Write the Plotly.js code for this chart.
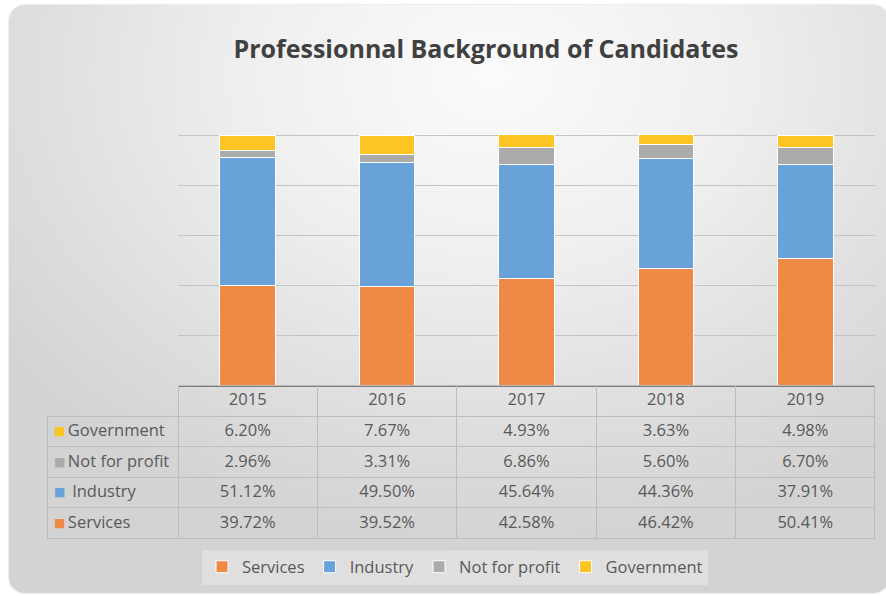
<!DOCTYPE html>
<html>
<head>
<meta charset="utf-8">
<script src="https://cdn.plot.ly/plotly-3.0.1.min.js"></script>
<style>
  html, body { margin: 0; padding: 0; background: #ffffff; }
  #wrap { position: relative; width: 886px; height: 596px; overflow: hidden; }
  #bg { position: absolute; left: 9px; top: 5px; width: 880px; height: 588px; border-radius: 16px;
        background: radial-gradient(ellipse 70% 80% at 55% 12%, #fbfbfb 0%, #efefef 40%, #dedede 75%, #d3d3d3 100%);
        box-shadow: 0 0 2px rgba(0,0,0,0.25); }
  #chart { position: absolute; left: 0; top: 0; width: 886px; height: 596px; }
</style>
</head>
<body>
<div id="wrap"><div id="bg"></div><div id="chart"></div></div>
<script>
const years = ['2015', '2016', '2017', '2018', '2019'];
const seriesNames = ['Services', 'Industry', 'Not for profit', 'Government'];
const services = [39.72, 39.52, 42.58, 46.42, 50.41];
const industry = [51.12, 49.50, 45.64, 44.36, 37.91];
const notForProfit = [2.96, 3.31, 6.86, 5.60, 6.70];
const government = [6.20, 7.67, 4.93, 3.63, 4.98];
const colors = ['#EE8A45', '#68A2D9', '#ABABAB', '#FDC524'];

const W = 886, H = 596;
const seriesValues = [services, industry, notForProfit, government];

const barTraces = seriesNames.map((name, i) => ({
  type: 'bar',
  name: name,
  x: years,
  y: seriesValues[i].map(v => v / 100),
  marker: { color: colors[i], line: { color: '#ffffff', width: 1 } },
  hoverinfo: 'skip'
}));

// table geometry (pixels)
const tblLeft = 47, tblRight = 875, tblTop = 385, headerH = 31, cellH = 30.5;
const firstColW = 131, yearColW = 139.4;
const tblBottom = tblTop + headerH + 4 * cellH;

// table rows are listed top-down: Government, Not for profit, Industry, Services
const NB = '\u00a0';
const rowOrder = [3, 2, 1, 0];
const labelCol = rowOrder.map(i =>
  NB.repeat(seriesNames[i] === 'Industry' ? 4 : 3) + seriesNames[i].split(' ').join(NB));
const yearCols = years.map((y, j) => rowOrder.map(i => seriesValues[i][j].toFixed(2) + '%'));

const grid = '#bdbdbd';
const tableTrace = {
  type: 'table',
  domain: { x: [tblLeft / W, tblRight / W], y: [1 - (tblBottom + 2) / H, 1 - tblTop / H] },
  columnwidth: [firstColW, yearColW, yearColW, yearColW, yearColW, yearColW],
  header: {
    values: [''].concat(years),
    height: headerH,
    align: 'center',
    fill: { color: 'rgba(0,0,0,0)' },
    line: { color: ['rgba(0,0,0,0)', grid, grid, grid, grid, grid], width: 1 },
    font: { family: 'Open Sans, sans-serif', size: 16.5, color: '#595959' }
  },
  cells: {
    values: [labelCol].concat(yearCols),
    height: cellH,
    align: ['left', 'center', 'center', 'center', 'center', 'center'],
    fill: { color: 'rgba(0,0,0,0)' },
    line: { color: grid, width: 1 },
    font: { family: 'Open Sans, sans-serif', size: 16.5, color: '#595959' }
  }
};

// colour keys in the table's first column
const keyAnnotations = rowOrder.map((i, r) => ({
  text: '■',
  xref: 'paper', yref: 'paper',
  x: (tblLeft + 12.5) / W,
  y: 1 - (tblTop + headerH + cellH * (r + 0.5)) / H,
  xanchor: 'center', yanchor: 'middle',
  showarrow: false,
  font: { family: 'DejaVu Sans, sans-serif', size: 12, color: colors[i] }
}));

const layout = {
  width: W, height: H,
  margin: { l: 0, r: 0, t: 0, b: 0 },
  paper_bgcolor: 'rgba(0,0,0,0)',
  plot_bgcolor: 'rgba(0,0,0,0)',
  barmode: 'stack',
  bargap: 0.6,
  showlegend: true,
  title: {
    text: 'Professionnal Background of Candidates',
    x: 486 / W, xanchor: 'center', xref: 'paper',
    y: 1 - 49 / H, yanchor: 'middle',
    font: { family: 'Open Sans, sans-serif', size: 25, color: '#404040', weight: 700 }
  },
  xaxis: {
    type: 'category',
    domain: [178 / W, 875 / W],
    range: [-0.5, 4.5],
    showticklabels: false,
    ticks: '',
    showgrid: false,
    showline: true, linecolor: '#7a7a7a', linewidth: 1.5,
    zeroline: false, fixedrange: true
  },
  yaxis: {
    domain: [1 - 385 / H, 1 - 85 / H],
    range: [0, 1.2],
    dtick: 0.2,
    showticklabels: false,
    ticks: '',
    showgrid: true, gridcolor: '#c4c4c4', gridwidth: 1,
    zeroline: false, showline: false, fixedrange: true
  },
  legend: {
    orientation: 'h',
    traceorder: 'normal',
    x: 455 / W, xanchor: 'center',
    y: 1 - 567 / H, yanchor: 'middle',
    bgcolor: 'rgba(232,232,232,0.6)',
    font: { family: 'Open Sans, sans-serif', size: 16.5, color: '#595959' },
    itemwidth: 30
  },
  annotations: keyAnnotations
};

Plotly.newPlot('chart', barTraces.concat([tableTrace]), layout, { staticPlot: true, displayModeBar: false });
</script>
</body>
</html>
